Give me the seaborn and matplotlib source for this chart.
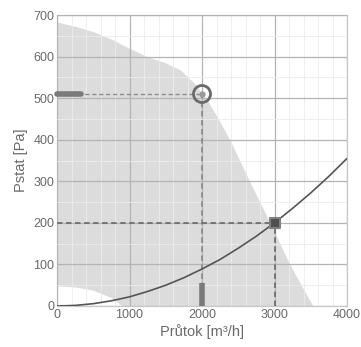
import numpy as np
import pandas as pd
import matplotlib
matplotlib.use("Agg")
import matplotlib.pyplot as plt
from matplotlib.ticker import MultipleLocator
import seaborn as sns

# fan working area (upper / lower bound)
area_x = [0, 250, 500, 750, 800, 900, 1000, 1241, 1500, 1700, 1900, 2069, 2230, 2386, 2662, 2938, 3214, 3400, 3531]
area_hi = [683, 673, 660, 642, 638, 628, 620, 600, 585, 568, 535, 496, 449, 399, 298, 200, 99, 40, 0]
area_lo = [48, 46, 38, 20, 14, 0, 0, 0, 0, 0, 0, 0, 0, 0, 0, 0, 0, 0, 0]

# system curve
sys_x = [0, 250, 500, 750, 1000, 1250, 1500, 1750, 2000, 2250, 2500, 2750, 3000, 3250, 3500, 3750, 4000]
sys_y = [0, 1.4, 5.6, 12.5, 22, 35, 50, 68, 89, 112, 139, 168, 200, 235, 272, 312, 355]

# operating points
max_pt = (2000, 510)
work_pt = (3000, 200)

sns.set_style("white")
plt.rcParams['font.family'] = ['Liberation Sans', 'DejaVu Sans']

fig = plt.figure(figsize=(3.61, 3.47), dpi=100)
ax = fig.add_axes([57/361, 41/347, 290/361, 291/347])

ax.fill_between(area_x, area_lo, area_hi, color="#dcdcdc", lw=0, zorder=1)

# grid
ax.xaxis.set_major_locator(MultipleLocator(1000))
ax.xaxis.set_minor_locator(MultipleLocator(200))
ax.yaxis.set_major_locator(MultipleLocator(100))
ax.yaxis.set_minor_locator(MultipleLocator(50))
ax.grid(which="major", color="#b4b4b4", lw=0.9, zorder=2)
ax.grid(which="minor", color="#ececec", lw=0.6, zorder=1.5)
ax.set_axisbelow(False)

sys_df = pd.DataFrame({"q": sys_x, "p": sys_y})
sns.lineplot(data=sys_df, x="q", y="p", ax=ax, color="#555555", lw=1.2, zorder=5)

# dashed guides
dk = "#6e6e6e"
ax.plot([0, max_pt[0]], [max_pt[1], max_pt[1]], ls=(0, (3, 2)), color="#8c8c8c", lw=1, zorder=4)
ax.plot([max_pt[0], max_pt[0]], [0, max_pt[1]], ls=(0, (3, 2)), color="#8c8c8c", lw=1.3, zorder=4)
ax.plot([0, work_pt[0]], [work_pt[1], work_pt[1]], ls=(0, (3, 2)), color=dk, lw=1.3, zorder=4)
ax.plot([work_pt[0], work_pt[0]], [0, work_pt[1]], ls=(0, (3, 2)), color=dk, lw=1.3, zorder=4)

# thick markers on the axes
ax.plot([0, 330], [max_pt[1], max_pt[1]], color="#7a7a7a", lw=4, solid_capstyle="round", zorder=6, clip_on=False)
ax.plot([max_pt[0], max_pt[0]], [0, 55], color="#7a7a7a", lw=4, solid_capstyle="butt", zorder=6, clip_on=False)

ax.scatter([max_pt[0]], [max_pt[1]], s=150, facecolor="none", edgecolor="#6a6a6a", linewidth=2, zorder=7)
ax.scatter([max_pt[0]], [max_pt[1]], s=12, color="#9a9a9a", zorder=7)
ax.scatter([work_pt[0]], [work_pt[1]], s=60, marker="s", color="#4f4f4f", edgecolor="#808080", linewidth=1.5, zorder=7)

ax.set_xlim(0, 4000)
ax.set_ylim(0, 700)
for s in ax.spines.values():
    s.set_color("#c8c8c8")
    s.set_linewidth(0.9)
ax.tick_params(which="both", length=0, labelsize=9, labelcolor="#6a6a6a", pad=2)
ax.set_xlabel("Průtok [m³/h]", fontsize=10.5, color="#6a6a6a", labelpad=2)
ax.set_ylabel("Pstat [Pa]", fontsize=10.5, color="#6a6a6a", labelpad=4)

fig.savefig("out.png", dpi=100, facecolor="white")
